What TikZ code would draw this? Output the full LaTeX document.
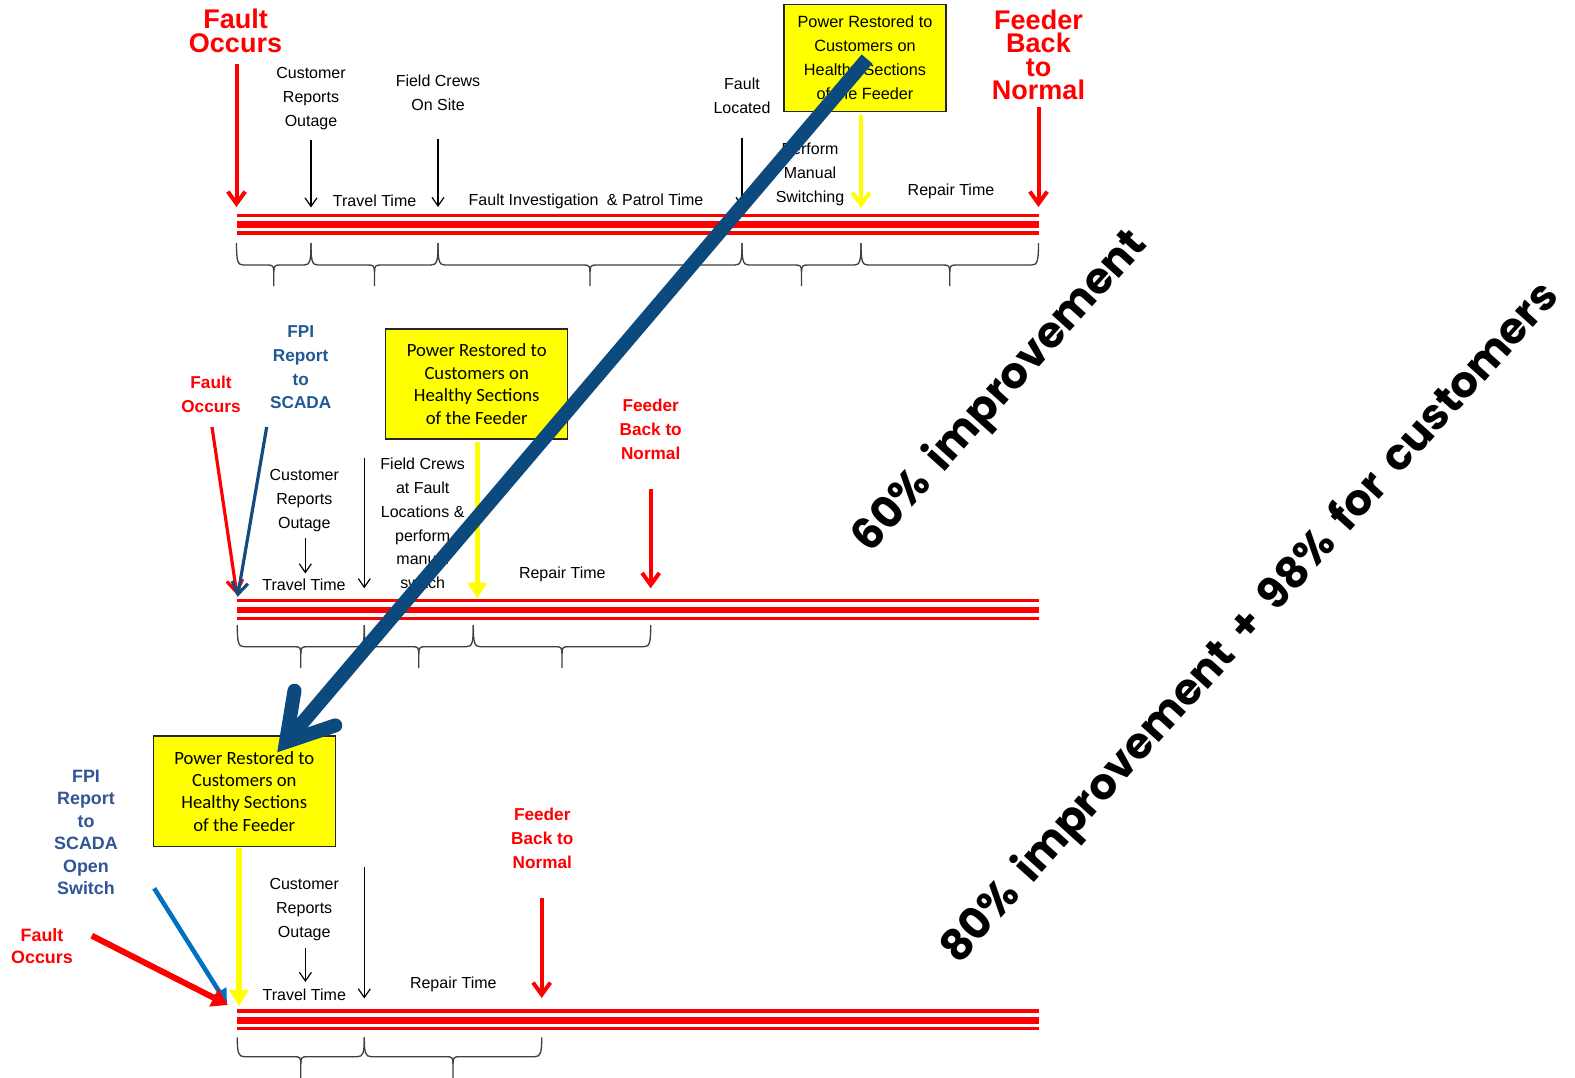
\documentclass[tikz,border=0pt]{standalone}
\usepackage{fontspec}
\setmainfont{Liberation Sans}
\newfontfamily\calibfont{Carlito}
\newfontfamily\geofont[WordSpace=1.7]{Poppins}
\usetikzlibrary{arrows.meta,calc}
\definecolor{bigblue}{RGB}{12,74,126}
\definecolor{fpiblue}{RGB}{31,90,148}
\definecolor{fpiarrow}{RGB}{20,76,128}
\definecolor{steelblue}{RGB}{47,85,151}
\definecolor{lightblue}{RGB}{0,112,192}
\definecolor{bordergray}{RGB}{38,38,38}
\definecolor{bracegray}{RGB}{64,64,64}
\definecolor{tred}{RGB}{255,0,0}
\definecolor{tyellow}{RGB}{255,255,0}
\newcommand{\tlbrace}[5]{%
  \pgfmathsetmacro{\bxm}{(#1+#2)/2}%
  \pgfmathsetmacro{\byh}{#3+#4}%
  \draw[brc] (#1,#3) .. controls ({#1},{\byh-4}) and ({#1+1},{\byh}) .. ({#1+7},{\byh}) -- ({\bxm-6},{\byh}) .. controls ({\bxm-1},{\byh}) and ({\bxm},{\byh+1}) .. ({\bxm},{\byh+7}) -- ({\bxm},{#5});
  \draw[brc] (#2,#3) .. controls ({#2},{\byh-4}) and ({#2-1},{\byh}) .. ({#2-7},{\byh}) -- ({\bxm+6},{\byh}) .. controls ({\bxm+1},{\byh}) and ({\bxm},{\byh+1}) .. ({\bxm},{\byh+7});
}
\newcommand{\tlbar}[3]{%
  \draw[tred, line width=2.4pt] (#1,#3) -- (#2,#3);
  \draw[tred, line width=5.1pt] (#1,{#3+9.2}) -- (#2,{#3+9.2});
  \draw[tred, line width=2.4pt] (#1,{#3+17.5}) -- (#2,{#3+17.5});
}
\begin{document}
\begin{tikzpicture}[x=0.75pt,y=-0.75pt,
  brc/.style={draw=bracegray, line width=1pt},
  lbl/.style={align=center, inner sep=0pt, font=\fontsize{12}{18}\selectfont},
  bigred/.style={align=center, inner sep=0pt, text=tred, font=\bfseries\fontsize{20.25}{17.6}\selectfont},
  medred/.style={align=center, inner sep=0pt, text=tred, font=\bfseries\fontsize{12.9}{17.8}\selectfont},
  botred/.style={align=center, inner sep=0pt, text=tred, font=\bfseries\fontsize{13.4}{16.3}\selectfont},
  fpitwo/.style={align=center, inner sep=0pt, text=fpiblue, font=\bfseries\fontsize{12.9}{17.8}\selectfont},
  fpithree/.style={align=center, inner sep=0pt, text=steelblue, font=\bfseries\fontsize{13.4}{16.8}\selectfont},
  yboxa/.style={draw=bordergray, line width=1.1pt, fill=tyellow, inner sep=0pt, align=center,
    minimum width=121.5pt, minimum height=80.6pt, font=\fontsize{12.2}{18}\selectfont},
  yboxb/.style={draw=bordergray, line width=1.1pt, fill=tyellow, inner sep=0pt, align=center,
    minimum width=136.5pt, minimum height=82.8pt, font=\calibfont\fontsize{14}{16.8}\selectfont},
  bigtxt/.style={inner sep=0pt, font=\geofont\bfseries\fontsize{32.4}{36}\selectfont},
  blkarr/.style={draw=black, line width=0.9pt, -{Straight Barb[length=6.5pt,width=9pt]}},
  redarr/.style={draw=tred, line width=3pt, -{Straight Barb[length=9pt,width=13pt]}},
  redarrtwo/.style={draw=tred, line width=2.4pt, -{Straight Barb[length=9pt,width=12pt]}},
  bluearrtwo/.style={draw=fpiarrow, line width=2.4pt, -{Straight Barb[length=9pt,width=12pt]}},
  yelarr/.style={draw=tyellow, line width=3pt, -{Straight Barb[length=9pt,width=13pt]}},
  yeltri/.style={draw=tyellow, line width=3.8pt, -{Triangle[length=12pt,width=14pt]}},
  redtri/.style={draw=tred, line width=4.5pt, -{Triangle[length=12pt,width=14pt]}},
  bluetri/.style={draw=lightblue, line width=3.4pt, -{Triangle[length=11pt,width=12pt]}}
]
\fill[white] (0,0) rectangle (1575,1078);
\useasboundingbox (0,0) rectangle (1575,1078);

% ---------------- Timeline 1 ----------------
\tlbar{236.5}{1038.5}{215.5}
\tlbrace{236.5}{311}{243}{22}{286}
\tlbrace{311}{438}{243}{22}{286}
\tlbrace{438}{742}{243}{22}{286}
\tlbrace{742}{861}{243}{22}{286}
\tlbrace{861}{1038.5}{243}{22}{286}

\node[bigred] (fo1) at (235.5,31) {Fault\\Occurs};
\node[lbl] (cro1) at (311,98.5) {Customer\\Reports\\Outage};
\node[lbl] (tt1) at (374.6,201) {Travel Time};
\node[lbl] (fc1) at (438,93) {Field Crews\\On Site};
\node[lbl] (fip1) at (586,201.5) {Fault Investigation\hspace{3pt} \& Patrol Time};
\node[lbl] (fl1) at (742,95.5) {Fault\\Located};
\node[lbl] (pms1) at (810,174) {Perform\\Manual\\Switching};
\node[yboxa] (box1) at (865,58) {Power Restored to\\Customers on\\Healthy Sections\\of the Feeder};
\node[lbl] (rt1) at (951,191.5) {Repair Time};
\node[bigred] (fbn1) at (1038.5,55) {Feeder\\Back\\to\\Normal};

\coordinate (a1s) at (236.5,64);   \coordinate (a1e) at (236.5,207);
\coordinate (b1s) at (311,140);    \coordinate (b1e) at (311,207.5);
\coordinate (c1s) at (438,139);    \coordinate (c1e) at (438,207);
\coordinate (d1s) at (742,138);    \coordinate (d1e) at (742,207);
\coordinate (e1s) at (861,115);    \coordinate (e1e) at (861,208);
\coordinate (f1s) at (1038.5,107); \coordinate (f1e) at (1038.5,207);
\draw[redarr] (a1s) -- (a1e);
\draw[blkarr] (b1s) -- (b1e);
\draw[blkarr] (c1s) -- (c1e);
\draw[blkarr] (d1s) -- (d1e);
\draw[yelarr] (e1s) -- (e1e);
\draw[redarr] (f1s) -- (f1e);

% ---------------- Timeline 2 ----------------
\tlbar{237.3}{1038.5}{600.8}
\tlbrace{237.3}{364.3}{625}{21.7}{668}
\tlbrace{364.3}{473.3}{625}{21.7}{668}
\tlbrace{473.3}{650.7}{625}{21.7}{668}

\node[medred] (fo2) at (211,394.5) {Fault\\Occurs};
\node[fpitwo] (fpi2) at (300.7,367.5) {FPI\\Report\\to\\SCADA};
\node[lbl] (cro2) at (304.3,500.5) {Customer\\Reports\\Outage};
\node[lbl] (tt2) at (304,585) {Travel Time};
\node[lbl, font=\fontsize{12}{17.8}\selectfont] (fcf2) at (422.7,523.5) {Field Crews\\at Fault\\Locations \&\\perform\\manual\\switch};
\node[yboxb] (box2) at (476.7,384) {Power Restored to\\Customers on\\Healthy Sections\\of the Feeder};
\node[lbl] (rt2) at (562.3,574.5) {Repair Time};
\node[medred] (fbn2) at (650.7,429.5) {Feeder\\Back to\\Normal};

\coordinate (a2s) at (212,427);    \coordinate (a2e) at (237,595);
\coordinate (g2s) at (266.7,427);  \coordinate (g2e) at (237.5,597);
\coordinate (b2s) at (305.3,538.3);\coordinate (b2e) at (305.3,573.5);
\coordinate (c2s) at (364.3,457.7);\coordinate (c2e) at (364.3,588.3);
\coordinate (e2s) at (477.3,442);  \coordinate (e2e) at (477.3,598.5);
\coordinate (f2s) at (650.7,489.3);\coordinate (f2e) at (650.7,588.3);
\draw[redarrtwo] (a2s) -- (a2e);
\draw[bluearrtwo] (g2s) -- (g2e);
\draw[blkarr] (b2s) -- (b2e);
\draw[blkarr] (c2s) -- (c2e);
\draw[yeltri] (e2s) -- (e2e);
\draw[redarr] (f2s) -- (f2e);

% ---------------- Timeline 3 ----------------
\tlbar{237.3}{1038.5}{1011}
\tlbrace{237.3}{364.3}{1037.3}{19.4}{1085}
\tlbrace{364.3}{541.7}{1037.3}{19.4}{1085}

\node[yboxb] (box3) at (244.3,791.2) {Power Restored to\\Customers on\\Healthy Sections\\of the Feeder};
\node[fpithree] (fpi3) at (86,832.5) {FPI\\Report\\to\\SCADA\\Open\\Switch};
\node[botred] (fo3) at (42,946) {Fault\\Occurs};
\node[lbl] (cro3) at (304.2,910) {Customer\\Reports\\Outage};
\node[lbl] (tt3) at (304.3,994.3) {Travel Time};
\node[lbl] (rt3) at (453.3,984) {Repair Time};
\node[medred] (fbn3) at (542.3,838.5) {Feeder\\Back to\\Normal};

\coordinate (e3s) at (239,847.5);  \coordinate (e3e) at (239,1006);
\coordinate (g3s) at (154.2,888.3);\coordinate (g3e) at (227,1004);
\coordinate (a3s) at (91.8,935.7); \coordinate (a3e) at (228,1005);
\coordinate (b3s) at (305.4,947.7);\coordinate (b3e) at (305.4,982);
\coordinate (c3s) at (364.3,866.7);\coordinate (c3e) at (364.3,998.5);
\coordinate (f3s) at (541.7,898.3);\coordinate (f3e) at (541.7,998);
\draw[yeltri] (e3s) -- (e3e);
\draw[bluetri] (g3s) -- (g3e);
\draw[redtri] (a3s) -- (a3e);
\draw[blkarr] (b3s) -- (b3e);
\draw[blkarr] (c3s) -- (c3e);
\draw[redarr] (f3s) -- (f3e);

% ---------------- Rotated statements ----------------
\node[bigtxt, rotate=48] (imp60) at (1001,392) {60\% improvement};
\node[bigtxt, rotate=48] (imp80) at (1251,624) {80\% improvement + 98\% for customers};

% ---------------- Big arrow ----------------
\coordinate (bas) at (867,59);
\coordinate (bav) at (286,742);
\draw[bigblue, line width=10.5pt] (bas) -- (bav);
\draw[bigblue, line width=10.5pt, line cap=round, line join=miter] ($(bav)+(-18.6:52)$) -- (bav) -- ($(bav)+(-80.6:52)$);
\end{tikzpicture}
\end{document}
